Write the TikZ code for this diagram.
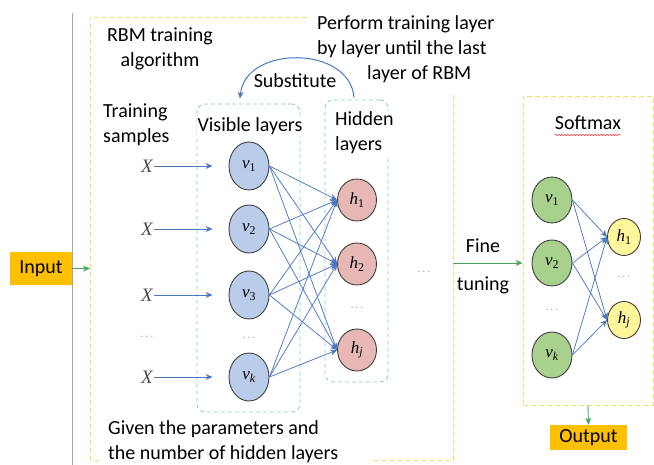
\documentclass[tikz,border=0pt]{standalone}
\usepackage{fontspec}
\setmainfont{Carlito}
\newfontfamily\unitfont{Liberation Serif}
\usetikzlibrary{arrows.meta,shapes.geometric,decorations.pathmorphing}

\definecolor{vblue}{HTML}{B9CCEA}
\definecolor{hpink}{HTML}{E8B8B7}
\definecolor{sgreen}{HTML}{A9D18E}
\definecolor{syellow}{HTML}{FFF59A}
\definecolor{linkblue}{HTML}{4A78C0}
\definecolor{frameyellow}{HTML}{F0E070}
\definecolor{layerteal}{HTML}{8CC8C4}
\definecolor{ioorange}{HTML}{FFC000}
\definecolor{tunegreen}{HTML}{45A55A}

% italic unit letter with a subscript, e.g. \ulab{v}{1} or \ulab{v}{\textit{k}}
\newcommand{\ulab}[2]{\textit{#1}\textsubscript{#2}}

\tikzset{
  unit/.style={ellipse, draw=black!75, line width=0.9pt, inner sep=0pt,
    font=\unitfont\fontsize{17}{20}\selectfont},
  vis/.style={unit, fill=vblue, minimum width=40pt, minimum height=48pt},
  hid/.style={unit, fill=hpink, minimum width=39pt, minimum height=42pt},
  sv/.style={unit, fill=sgreen, minimum width=40pt, minimum height=46pt},
  sh/.style={unit, fill=syellow, minimum width=33pt, minimum height=37pt},
  link/.style={draw=linkblue, line width=0.75pt, -{Stealth[length=7pt,width=6pt]}},
  feed/.style={link, shorten >=16pt},
  tune/.style={draw=tunegreen, line width=0.9pt, -{Stealth[length=7pt,width=6pt]}},
  txt/.style={font=\fontsize{20}{25}\selectfont, inner sep=1pt},
  masktxt/.style={txt, fill=white},
  xin/.style={font=\unitfont\itshape\fontsize{19}{20}\selectfont, text=black!70, inner sep=1pt},
  gdots/.style={font=\fontsize{11}{11}\selectfont, text=black!55, inner sep=0pt},
  layerbox/.style={draw=layerteal, line width=0.8pt, rounded corners=8pt,
    dash pattern=on 4pt off 3pt},
  stagebox/.style={draw=frameyellow, line width=0.8pt, dash pattern=on 5pt off 3pt},
  iobox/.style={fill=ioorange, font=\fontsize{20}{24}\selectfont, inner sep=0pt},
}

\begin{document}
\begin{tikzpicture}[x=1pt,y=-1pt]
\useasboundingbox (0,0) rectangle (654,465);

% page rule
\draw[black!35, line width=0.7pt] (72,13) -- (72,465);

% RBM stage frame (broken where text crosses it)
\draw[stagebox] (307,17) -- (90,17) -- (90,460) -- (100,460);
\draw[stagebox] (373,460) -- (453,460) -- (453,93);

% layer boxes
\node[layerbox, minimum width=103pt, minimum height=308pt] (vbox) at (248.5,258) {};
\node[layerbox, minimum width=63pt, minimum height=282pt] (hbox) at (356.5,241) {};

% texts
\node[txt, align=center] (rbm) at (160,48.5) {RBM training\\algorithm};
\node[txt, align=left, anchor=west] (samples) at (102,125) {Training\\samples};
\node[txt, align=left, anchor=west] (perform) at (316,49)
  {Perform training layer\\by layer until the last\\\hspace*{50pt}layer of RBM};
\node[masktxt] (vislab) at (250,126) {Visible layers};
\node[masktxt, align=left, anchor=west] (hidlab) at (334,133) {Hidden\\layers};
\node[txt] (subst) at (295,81) {Substitute};
\node[txt, align=left, anchor=west] (given) at (107,442)
  {Given the parameters and\\the number of hidden layers};

% visible units
\node[vis] (v1) at (249,166) {\ulab{v}{1}};
\node[vis] (v2) at (249,229) {\ulab{v}{2}};
\node[vis] (v3) at (249,295) {\ulab{v}{3}};
\node[gdots] (vd) at (249,338) {$\cdots$};
\node[vis] (vk) at (249,377) {\ulab{v}{\textit{k}}};

% hidden units
\node[hid] (h1) at (357,200) {\ulab{h}{1}};
\node[hid] (h2) at (357,264) {\ulab{h}{2}};
\node[gdots] (hd) at (357,308) {$\cdots$};
\node[hid] (hj) at (357,350) {\ulab{h}{\textit{j}}};

% training samples
\node[xin] (x1) at (147,166) {X};
\node[xin] (x2) at (147,229) {X};
\node[xin] (x3) at (147,295) {X};
\node[gdots] (xd) at (147,337) {$\cdots$};
\node[xin] (xk) at (147,377) {X};

\foreach \i in {1,2,3,k} \draw[feed] (x\i.east) -- (v\i.west);

% full connections visible -> hidden
\foreach \a in {v1,v2,v3,vk}
  \foreach \b in {h1,h2,hj}
    \draw[link] (\a.east) -- (\b.west);

% substitute loop
\draw[link, line width=1pt] ([xshift=-2.5pt,yshift=2pt]hbox.north)
  .. controls (350,45) and (245,45) .. ([xshift=-8.5pt,yshift=5pt]vbox.north);

% input
\node[iobox, minimum width=62pt, minimum height=33pt] (input) at (41,268.5) {Input};
\coordinate (inport) at (90,268.5);
\draw[tune] (input.east) -- (inport);

% between stages
\node[gdots] (mid) at (424,272) {$\cdots$};
\coordinate (tuneout) at (453,263);

% softmax stage
\node[stagebox, minimum width=130pt, minimum height=309pt, inner sep=0pt] (sbox) at (588,250.5) {};
\draw[tune] (tuneout) -- (sbox.west |- tuneout);
\node[txt] (fine) at (483,246) {Fine};
\node[txt] (tuning) at (483,285) {tuning};
\node[txt] (smax) at (588,123) {Softmax};
\draw[red!80, line width=0.5pt, decorate,
  decoration={snake, amplitude=0.8pt, segment length=3pt}]
  ([xshift=-33pt,yshift=-12pt]smax.center) -- ([xshift=33pt,yshift=-12pt]smax.center);

\node[sv] (s1) at (552,200) {\ulab{v}{1}};
\node[sv] (s2) at (552,263) {\ulab{v}{2}};
\node[gdots] (sd) at (552,310) {$\cdots$};
\node[sv] (sk) at (552,355) {\ulab{v}{\textit{k}}};
\node[sh] (t1) at (624,237) {\ulab{h}{1}};
\node[gdots] (td) at (624,277) {$\cdots$};
\node[sh] (tj) at (624,320) {\ulab{h}{\textit{j}}};

\foreach \a in {s1,s2,sk}
  \foreach \b in {t1,tj}
    \draw[link] (\a.east) -- (\b.west);

% output
\node[iobox, minimum width=77pt, minimum height=25pt] (output) at (588.5,437.5) {Output};
\draw[tune] (sbox.south) -- (output.north);
\end{tikzpicture}
\end{document}
